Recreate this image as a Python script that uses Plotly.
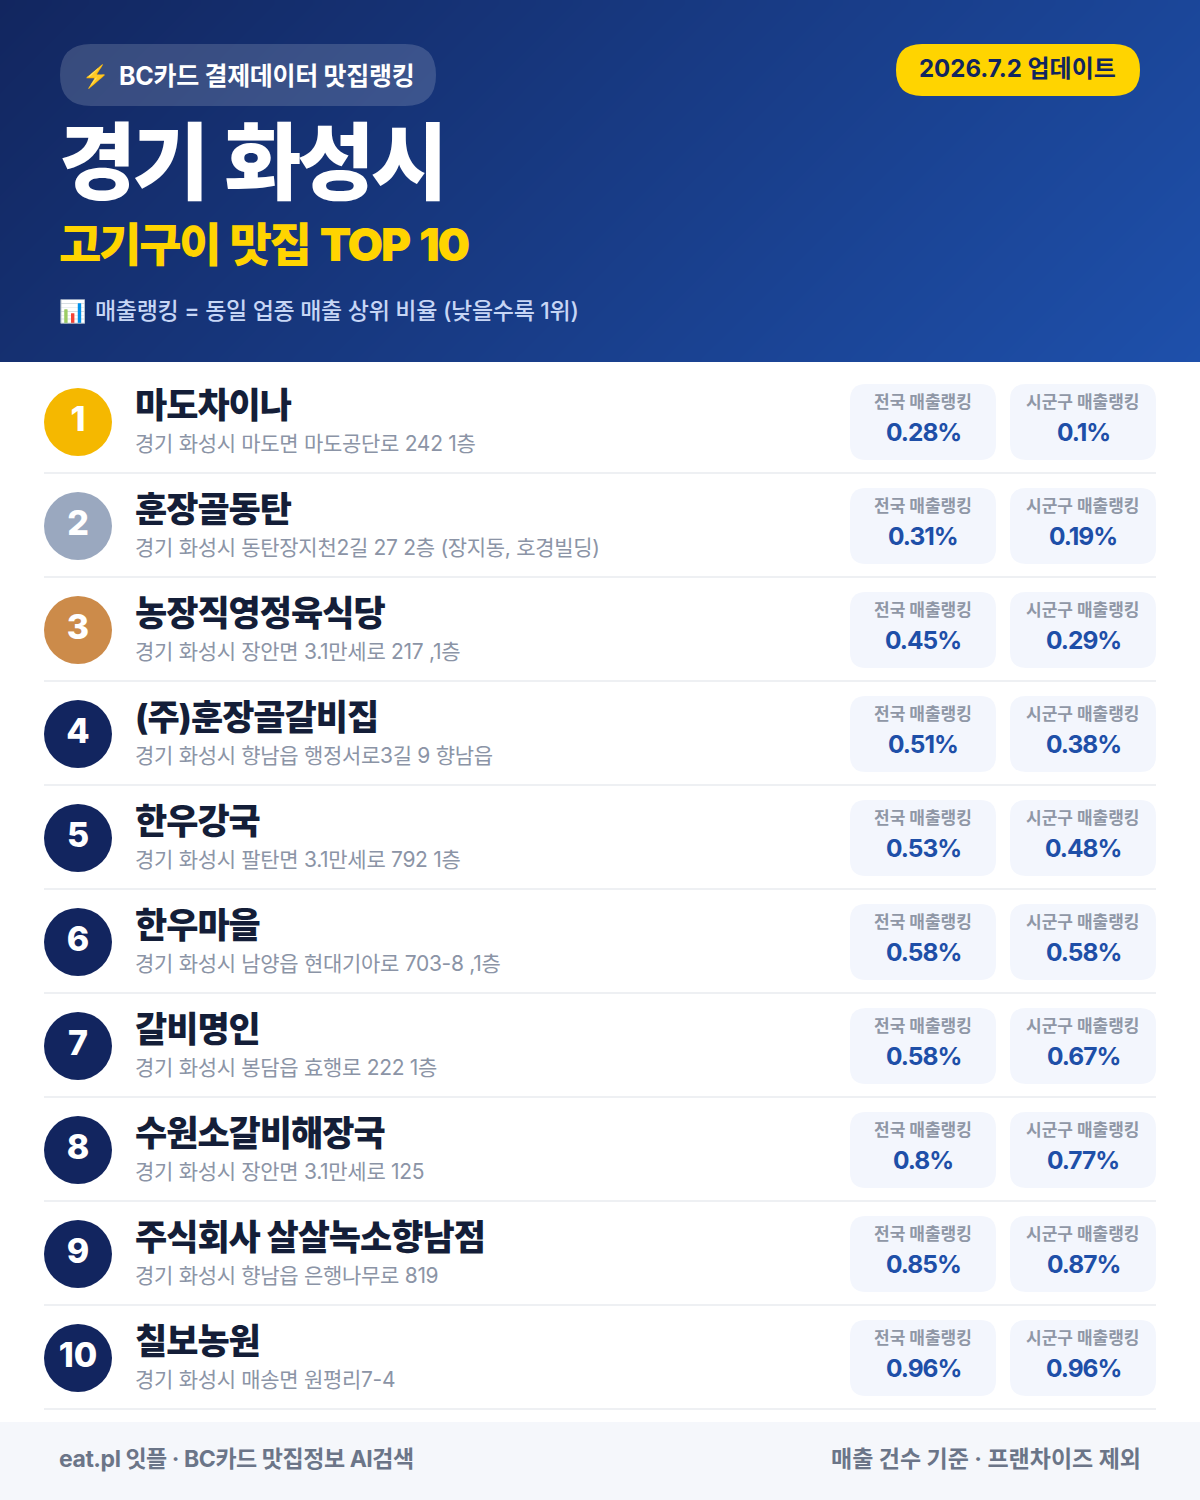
import numpy as np
import plotly.graph_objects as go

# ==============================================================================
# Data
# ==============================================================================
ranks = [1, 2, 3, 4, 5, 6, 7, 8, 9, 10]
names = ["마도차이나", "훈장골동탄", "농장직영정육식당", "(주)훈장골갈비집", "한우강국", "한우마을", "갈비명인", "수원소갈비해장국", "주식회사 살살녹소향남점", "칠보농원"]
addresses = [
    "경기 화성시 마도면 마도공단로 242 1층",
    "경기 화성시 동탄장지천2길 27 2층 (장지동, 호경빌딩)",
    "경기 화성시 장안면 3.1만세로 217 ,1층",
    "경기 화성시 향남읍 행정서로3길 9 향남읍",
    "경기 화성시 팔탄면 3.1만세로 792 1층",
    "경기 화성시 남양읍 현대기아로 703-8 ,1층",
    "경기 화성시 봉담읍 효행로 222 1층",
    "경기 화성시 장안면 3.1만세로 125",
    "경기 화성시 향남읍 은행나무로 819",
    "경기 화성시 매송면 원평리7-4",
]
national = [0.28, 0.31, 0.45, 0.51, 0.53, 0.58, 0.58, 0.8, 0.85, 0.96]
district = [0.1, 0.19, 0.29, 0.38, 0.48, 0.58, 0.67, 0.77, 0.87, 0.96]
medals = ["#F5B800", "#9AA8BF", "#CC8B4A"]

FONT = "Inter, Noto Sans CJK KR"
NAVY = "#12255F"
BLUE = "#1E4FA8"


# ==============================================================================
# Helpers
# ==============================================================================
def roundRect(x0, y0, x1, y1, r, color):
    path = (f"M{x0 + r},{y0} L{x1 - r},{y0} Q{x1},{y0} {x1},{y0 + r} L{x1},{y1 - r} Q{x1},{y1} {x1 - r},{y1} "
            f"L{x0 + r},{y1} Q{x0},{y1} {x0},{y1 - r} L{x0},{y0 + r} Q{x0},{y0} {x0 + r},{y0} Z")
    fig.add_shape(type="path", path=path, fillcolor=color, line_width=0)


def label(x, y, txt, size, color, weight=400, anchor="left", spacing=0, words=0):
    # annotations keep a small pad, take it back so that text starts on x
    shift = {"left": -3, "center": 0, "right": 3}[anchor]
    if spacing or words:
        txt = f'<span style="letter-spacing:{spacing}px;word-spacing:{words}px">{txt}</span>'
    fig.add_annotation(x=x + shift, y=y, text=txt, showarrow=False, xanchor=anchor, yanchor="middle",
                       font=dict(family=FONT, size=size, color=color, weight=weight))


# ==============================================================================
# Header background
# ==============================================================================
fig = go.Figure()
gx = np.linspace(0, 1200, 121)
gy = np.linspace(4, 358, 45)
gz = (gx[None, :] + gy[:, None]) / (1200 + 362)
fig.add_trace(go.Heatmap(x=gx, y=gy, z=gz, zsmooth="best", showscale=False, hoverinfo="skip",
                         colorscale=[[0, "#12265F"], [1, "#1E50AB"]], zmin=0, zmax=1))

# ==============================================================================
# Header
# ==============================================================================
roundRect(60, 44, 436, 106, 31, "rgba(255,255,255,0.16)")
roundRect(896, 44, 1140, 96, 26, "#FFD400")
label(83, 76, "⚡", 22, "#FFC61A")
label(120, 76, "BC카드 결제데이터 맛집랭킹", 25, "#FFFFFF", 700, spacing=-0.3)
label(1017, 68, "2026.7.2 업데이트", 24, NAVY, 700, "center")
label(60, 162, "경기 화성시", 84, "#FFFFFF", 900, spacing=-4, words=6)
label(60, 244, "고기구이 맛집 TOP 10", 46, "#FFD400", 900, spacing=-2.2, words=3)
label(60, 311, "📊", 22, "#FFFFFF")
label(96, 311, "매출랭킹 = 동일 업종 매출 상위 비율 (낮을수록 1위)", 23, "#C7D6F5", 500, spacing=-0.3)

# ==============================================================================
# Rows
# ==============================================================================
rowY = [422 + 104 * i for i in range(len(ranks))]
colors = [medals[i] if i < len(medals) else NAVY for i in range(len(ranks))]
fig.add_trace(go.Scatter(x=[78] * len(ranks), y=rowY, mode="markers+text", text=[str(r) for r in ranks],
                         marker=dict(size=68, color=colors, line_width=0), hoverinfo="skip",
                         textposition="middle center",
                         textfont=dict(family=FONT, size=34, color="#FFFFFF", weight=800)))

for i, y in enumerate(rowY):
    label(136, y - 17, names[i], 35, "#141E38", 800, spacing=-1)
    label(136, y + 21, addresses[i], 21, "#8B94A6", 400, spacing=-0.3)
    for x0, lab, val in [(850, "전국 매출랭킹", national[i]), (1010, "시군구 매출랭킹", district[i])]:
        roundRect(x0, y - 38, x0 + 146, y + 38, 16, "#F3F6FD")
        label(x0 + 73, y - 20, lab, 17, "#8F97A6", 700, "center")
        label(x0 + 73, y + 10, f"{val}%", 24.5, BLUE, 700, "center", spacing=-1)
    fig.add_shape(type="rect", x0=44, x1=1156, y0=y + 50, y1=y + 52, fillcolor="#EEF0F3", line_width=0)

# ==============================================================================
# Footer
# ==============================================================================
fig.add_shape(type="rect", x0=0, x1=1200, y0=1422, y1=1500, fillcolor="#F5F7FB", line_width=0)
label(60, 1459, "eat.pl 잇플 · BC카드 맛집정보 AI검색", 23, "#6B7588", 700, spacing=-0.45)
label(1140, 1459, "매출 건수 기준 · 프랜차이즈 제외", 23, "#6B7588", 700, "right")

# ==============================================================================
# Layout
# ==============================================================================
fig.update_xaxes(range=[0, 1200], visible=False, fixedrange=True)
fig.update_yaxes(range=[1500, 0], visible=False, fixedrange=True)
fig.update_layout(width=1200, height=1500, margin=dict(l=0, r=0, t=0, b=0), showlegend=False,
                  paper_bgcolor="#FFFFFF", plot_bgcolor="#FFFFFF")

fig.write_html("out.html", config=dict(displayModeBar=False), post_script="document.body.style.margin='0';")
